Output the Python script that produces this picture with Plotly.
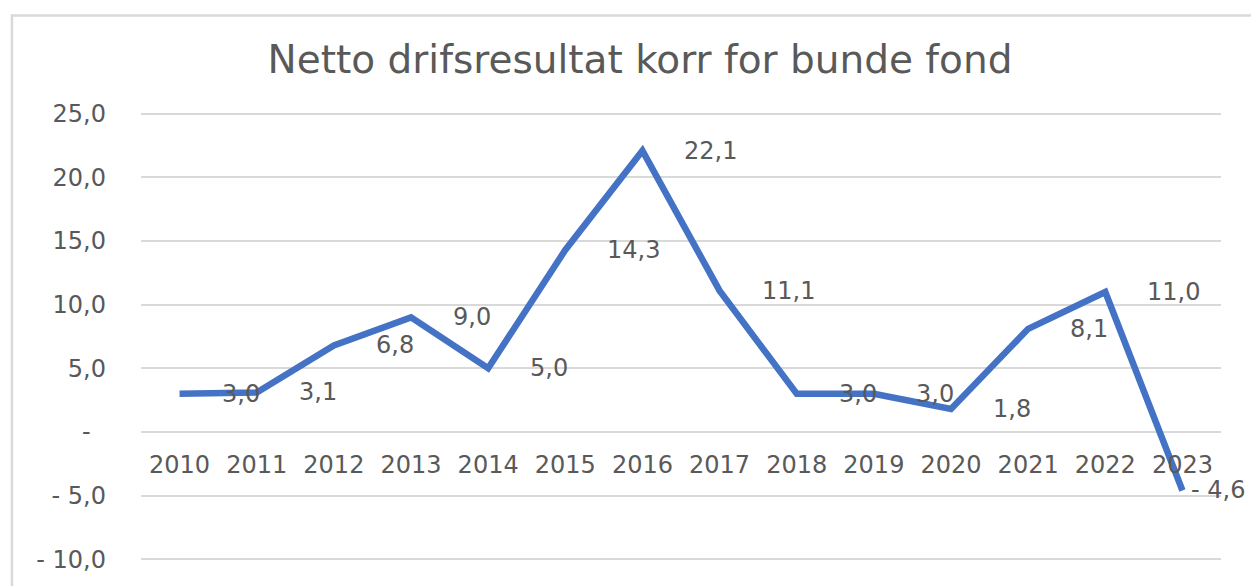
import plotly.graph_objects as go

years = ["2010", "2011", "2012", "2013", "2014", "2015", "2016",
         "2017", "2018", "2019", "2020", "2021", "2022", "2023"]
values = [3.0, 3.1, 6.8, 9.0, 5.0, 14.3, 22.1, 11.1, 3.0, 3.0, 1.8, 8.1, 11.0, -4.6]
y_tickvals = [25, 20, 15, 10, 5, 0, -5, -10]
y_ticktext = ["25,0", "20,0", "15,0", "10,0", "5,0", "-\u00a0\u00a0", "- 5,0", "- 10,0"]
title_text = "Netto drifsresultat korr for bunde fond"

TEXT = "#595959"
FONT = "DejaVu Sans"
PAD = 0.3  # small range padding so edge gridlines are drawn


def fmt(v):
    s = f"{abs(v):.1f}".replace(".", ",")
    return ("- " + s) if v < 0 else s


fig = go.Figure()
fig.add_trace(go.Scatter(
    x=years, y=values, mode="lines",
    line=dict(color="#4472C4", width=6.5),
    hoverinfo="skip", showlegend=False,
))

for i, v in enumerate(values):
    fig.add_annotation(
        x=i, y=v, xref="x", yref="y", text=fmt(v), showarrow=False,
        xanchor="left", yanchor="middle", xshift=40 if v >= 0 else 7,
        font=dict(family=FONT, size=24, color=TEXT),
    )

px_per_unit = 449 / 35
t_m = 114 - PAD * px_per_unit
b_m = 23 - PAD * px_per_unit
plot_h = 586 - t_m - b_m


def py(pix):
    # pixel row -> paper fraction
    return (586 - b_m - pix) / plot_h


fig.add_shape(
    type="rect", xref="paper", yref="paper",
    x0=-0.1195, x1=1.05, y0=py(610), y1=py(15),
    line=dict(color="#D9D9D9", width=2.5), fillcolor="rgba(0,0,0,0)",
    layer="below",
)

fig.update_layout(
    width=1251, height=586,
    margin=dict(l=141, r=30, t=t_m, b=b_m),
    paper_bgcolor="white", plot_bgcolor="white",
    title=dict(
        text=title_text, x=640 / 1251, xref="container", xanchor="center",
        y=1 - 59 / 586, yref="container", yanchor="middle",
        font=dict(family=FONT, size=39, color=TEXT),
    ),
    xaxis=dict(
        type="category", categoryorder="array", categoryarray=years,
        range=[-0.5, len(years) - 0.5],
        showgrid=False, zeroline=False, showline=False, ticks="",
        anchor="free", position=(10 + PAD) / (35 + 2 * PAD),
        ticklabelstandoff=16,
        tickfont=dict(family=FONT, size=24, color=TEXT),
    ),
    yaxis=dict(
        range=[-10 - PAD, 25 + PAD], tickvals=y_tickvals, ticktext=y_ticktext,
        showgrid=True, gridcolor="#D9D9D9", gridwidth=2,
        zeroline=False, showline=False, ticks="",
        ticklabelstandoff=34,
        tickfont=dict(family=FONT, size=24, color=TEXT),
    ),
)

fig.write_html(
    "out.html",
    config={"displayModeBar": False},
    post_script="document.body.style.margin='0';document.body.style.overflow='hidden';",
)
